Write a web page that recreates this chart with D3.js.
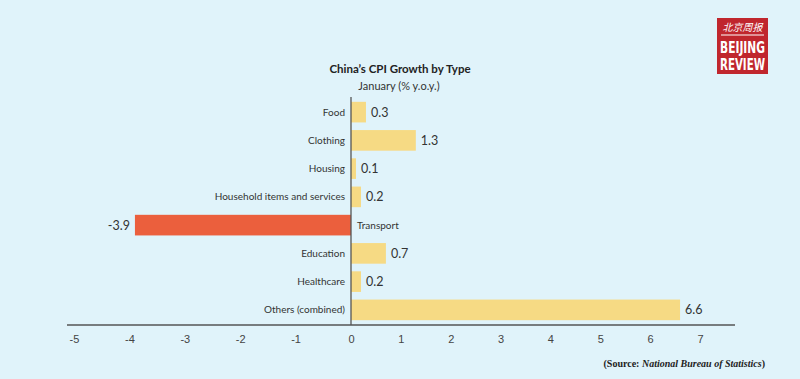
<!DOCTYPE html>
<html>
<head>
	<meta charset="utf-8">
	<title>China's CPI Growth by Type</title>
	<script src="https://cdn.jsdelivr.net/npm/d3@7"></script>
	<style>
	body{
		margin: 0;
		background: #e0f3fa;
		font-family: Lato, "Open Sans", Arial, sans-serif;
	}
	#chart{
		width: 800px;
		height: 379px;
	}
	.cat{
		font-size: 10px;
		fill: #333333;
	}
	.val{
		font-size: 12.5px;
		fill: #333333;
	}
	.tick text{
		font-size: 11px;
		fill: #444444;
	}
	</style>
</head>
<body>
	<div id="chart"></div>

	<script>
		var categories = ["Food", "Clothing", "Housing", "Household items and services", "Transport", "Education", "Healthcare", "Others (combined)"];
		var values = [0.3, 1.3, 0.1, 0.2, -3.9, 0.7, 0.2, 6.6];
		var tickValues = [-5, -4, -3, -2, -1, 0, 1, 2, 3, 4, 5, 6, 7];

		var width = 800,
			height = 379;

		var svg = d3.select("#chart")
			.append("svg")
			.attr("width", width)
			.attr("height", height);

		svg.append("rect")
			.attr("width", width)
			.attr("height", height)
			.attr("fill", "#e0f3fa");

		// the printed axis is not even: the negative side is a bit wider per unit
		var x = d3.scaleLinear()
			.domain([-5, 0, 7])
			.range([74, 351, 700]);

		var y = d3.scaleBand()
			.domain(categories)
			.range([98, 324])
			.paddingInner(0.27)
			.paddingOuter(0.135);

		// plain hyphen for negatives, like the print
		var fmt = d3.formatLocale({decimal: ".", thousands: ",", grouping: [3], currency: ["", ""], minus: "-"});

		var data = categories.map(function(c, i){
			return {name: c, value: values[i]};
		});

		// bars
		svg.selectAll(".bar")
			.data(data)
			.enter().append("rect")
			.attr("class", "bar")
			.attr("x", function(d){return x(Math.min(0, d.value));})
			.attr("y", function(d){return y(d.name);})
			.attr("width", function(d){return Math.abs(x(d.value) - x(0));})
			.attr("height", y.bandwidth())
			.attr("fill", function(d){return d.value < 0 ? "#eb5f3d" : "#f6da84";});

		// category labels, on the side away from the bar
		svg.selectAll(".cat")
			.data(data)
			.enter().append("text")
			.attr("class", "cat")
			.attr("x", function(d){return d.value < 0 ? x(0) + 6 : x(0) - 6;})
			.attr("y", function(d){return y(d.name) + y.bandwidth() / 2;})
			.attr("dy", "0.35em")
			.attr("text-anchor", function(d){return d.value < 0 ? "start" : "end";})
			.text(function(d){return d.name;});

		// value labels
		svg.selectAll(".val")
			.data(data)
			.enter().append("text")
			.attr("class", "val")
			.attr("x", function(d){return d.value < 0 ? x(d.value) - 5 : x(d.value) + 5;})
			.attr("y", function(d){return y(d.name) + y.bandwidth() / 2;})
			.attr("dy", "0.35em")
			.attr("text-anchor", function(d){return d.value < 0 ? "end" : "start";})
			.text(function(d){return fmt.format(".1f")(d.value);});

		// zero line
		svg.append("line")
			.attr("x1", x(0))
			.attr("x2", x(0))
			.attr("y1", 97)
			.attr("y2", 325)
			.attr("stroke", "#555555")
			.attr("stroke-width", 1.3);

		// x axis
		var axis = svg.append("g")
			.attr("transform", "translate(0,325)")
			.call(d3.axisBottom(x).tickValues(tickValues).tickSize(0).tickPadding(10).tickFormat(fmt.format("d")));
		axis.select(".domain").remove();
		axis.append("line")
			.attr("x1", 67)
			.attr("x2", 735)
			.attr("stroke", "#555555")
			.attr("stroke-width", 1.5);

		// titles
		svg.append("text")
			.attr("x", 400)
			.attr("y", 73)
			.attr("text-anchor", "middle")
			.attr("font-size", "11.5px")
			.attr("font-weight", "bold")
			.attr("fill", "#222222")
			.text("China\u2019s CPI Growth by Type");

		svg.append("text")
			.attr("x", 399)
			.attr("y", 90)
			.attr("text-anchor", "middle")
			.attr("font-size", "11px")
			.attr("fill", "#333333")
			.text("January (% y.o.y.)");

		// source
		var src = svg.append("text")
			.attr("x", 765)
			.attr("y", 367)
			.attr("text-anchor", "end")
			.attr("font-family", "'Liberation Serif', 'DejaVu Serif', serif")
			.attr("font-size", "10px")
			.attr("font-weight", "bold")
			.attr("fill", "#222222");
		src.append("tspan").text("(Source: ");
		src.append("tspan").attr("font-style", "italic").text("National Bureau of Statistics");
		src.append("tspan").text(")");

		// logo
		var logo = svg.append("g").attr("transform", "translate(717,18)");
		logo.append("rect")
			.attr("width", 51)
			.attr("height", 56)
			.attr("fill", "#c0262d");
		logo.append("text")
			.attr("x", 25.5)
			.attr("y", 13)
			.attr("text-anchor", "middle")
			.attr("font-family", "'Noto Sans CJK SC', sans-serif")
			.attr("font-size", "10px")
			.attr("font-style", "italic")
			.attr("fill", "#ffffff")
			.text("北京周报");
		logo.append("line")
			.attr("x1", 4)
			.attr("x2", 47)
			.attr("y1", 17)
			.attr("y2", 17)
			.attr("stroke", "#ffffff")
			.attr("stroke-width", 1);
		logo.append("text")
			.attr("x", 25.5)
			.attr("y", 35)
			.attr("text-anchor", "middle")
			.attr("font-family", "'DejaVu Sans Condensed', 'Liberation Sans Narrow', sans-serif")
			.attr("font-weight", "bold")
			.attr("font-size", "15px")
			.attr("textLength", 45)
			.attr("lengthAdjust", "spacingAndGlyphs")
			.attr("fill", "#ffffff")
			.text("BEIJING");
		logo.append("text")
			.attr("x", 25.5)
			.attr("y", 52)
			.attr("text-anchor", "middle")
			.attr("font-family", "'DejaVu Sans Condensed', 'Liberation Sans Narrow', sans-serif")
			.attr("font-weight", "bold")
			.attr("font-size", "15px")
			.attr("textLength", 45)
			.attr("lengthAdjust", "spacingAndGlyphs")
			.attr("fill", "#ffffff")
			.text("REVIEW");
	</script>
</body>
</html>
